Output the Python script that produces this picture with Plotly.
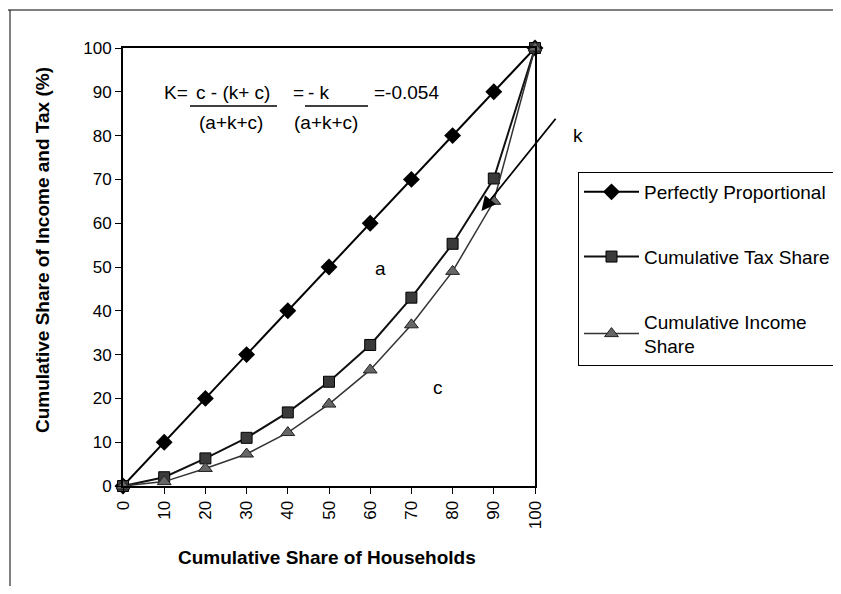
import plotly.graph_objects as go

# cumulative share of households (%)
households = [0, 10, 20, 30, 40, 50, 60, 70, 80, 90, 100]
proportional = [0, 10, 20, 30, 40, 50, 60, 70, 80, 90, 100]
tax_share = [0, 2, 6.3, 11, 16.8, 23.8, 32.2, 43, 55.3, 70.2, 100]
income_share = [0, 1, 4, 7.3, 12.2, 18.7, 26.5, 36.8, 49, 65, 100]

# the "k" line: arrow tip and tail (data units)
k_tip = (87, 62.8)
k_tail = (105.3, 84.2)

FONT = "Liberation Sans, Arial, sans-serif"

# page body has an 8px margin, so the figure starts at (8, 8) in the window
OFF = 8
W, H = 841 - 2 * OFF, 594 - 2 * OFF
# plot area in window pixels
L, R, T, B = 123, 535, 48, 486


def px(x):
    return (x - L) / (R - L)


def py(y):
    return (B - y) / (B - T)


def note(x, y, text, size=19, **kw):
    d = dict(x=px(x), y=py(y), xref="paper", yref="paper", text=text,
             showarrow=False, xanchor="center", yanchor="middle",
             font=dict(size=size))
    d.update(kw)
    return d


fig = go.Figure()

fig.add_trace(go.Scatter(
    x=households, y=proportional, name="Perfectly Proportional",
    mode="lines+markers", legendgroup="a",
    line=dict(color="black", width=2),
    marker=dict(symbol="diamond", size=13, color="black"),
    cliponaxis=False,
))
fig.add_trace(go.Scatter(
    x=households, y=tax_share, name="Cumulative Tax Share",
    mode="lines+markers", legendgroup="b",
    line=dict(color="#111111", width=2),
    marker=dict(symbol="square", size=11, color="#3a3a3a",
                line=dict(color="black", width=1)),
    cliponaxis=False,
))
fig.add_trace(go.Scatter(
    x=households, y=income_share, name="Cumulative Income<br>Share",
    mode="lines+markers", legendgroup="c",
    line=dict(color="#333333", width=1.5),
    marker=dict(symbol="triangle-up", size=12, color="#666666",
                line=dict(color="#222222", width=1)),
    cliponaxis=False,
))

annotations = [
    # k line with arrow
    dict(x=k_tip[0], y=k_tip[1], ax=k_tail[0], ay=k_tail[1],
         xref="x", yref="y", axref="x", ayref="y", text="",
         showarrow=True, arrowhead=2, arrowsize=1.6, arrowwidth=1.8,
         arrowcolor="black"),
    note(578, 135, "k"),
    note(380, 268, "a"),
    note(438, 387, "c"),
    # formula
    note(162, 92, "K=", xanchor="left"),
    note(233, 92, "c - (k+ c)"),
    note(231, 122, "(a+k+c)"),
    note(291, 92, "=", xanchor="left"),
    note(306, 92, "- k", xanchor="left"),
    note(326, 122, "(a+k+c)"),
    note(372, 92, "=-0.054", xanchor="left"),
    # axis titles
    note(327, 557, "<b>Cumulative Share of Households</b>", size=19),
    note(42, 250, "<b>Cumulative Share of Income and Tax (%)</b>", size=19,
         textangle=-90),
]

shapes = [
    # fraction bars
    dict(type="line", xref="paper", yref="paper", x0=px(190), x1=px(277),
         y0=py(106), y1=py(106), line=dict(color="black", width=1.5)),
    dict(type="line", xref="paper", yref="paper", x0=px(305), x1=px(368),
         y0=py(106), y1=py(106), line=dict(color="black", width=1.5)),
    # outer chart frame
    dict(type="line", xref="paper", yref="paper", x0=px(0), x1=px(841),
         y0=py(10), y1=py(10), line=dict(color="black", width=1)),
    dict(type="line", xref="paper", yref="paper", x0=px(10), x1=px(10),
         y0=py(10), y1=py(594), line=dict(color="black", width=1)),
]

fig.update_layout(
    width=W, height=H,
    margin=dict(l=L - OFF, r=W - (R - OFF), t=T - OFF, b=H - (B - OFF),
                autoexpand=False),
    paper_bgcolor="white", plot_bgcolor="white",
    font=dict(family=FONT, size=19, color="black"),
    showlegend=True,
    legend=dict(
        x=px(578), y=py(172), xanchor="left", yanchor="top",
        bordercolor="black", borderwidth=1, bgcolor="white",
        font=dict(size=19), tracegroupgap=37, traceorder="grouped",
        itemwidth=55,
    ),
    xaxis=dict(
        range=[0, 100], tickvals=households, tickangle=-90,
        showline=True, linecolor="black", linewidth=2, mirror=True,
        ticks="outside", ticklen=6, tickcolor="black",
        showgrid=False, zeroline=False, tickfont=dict(size=17),
    ),
    yaxis=dict(
        range=[0, 100], dtick=10,
        showline=True, linecolor="black", linewidth=2, mirror=True,
        ticks="outside", ticklen=6, tickcolor="black",
        showgrid=False, zeroline=False, tickfont=dict(size=17),
    ),
    annotations=annotations,
    shapes=shapes,
)

fig.write_html("out.html")
